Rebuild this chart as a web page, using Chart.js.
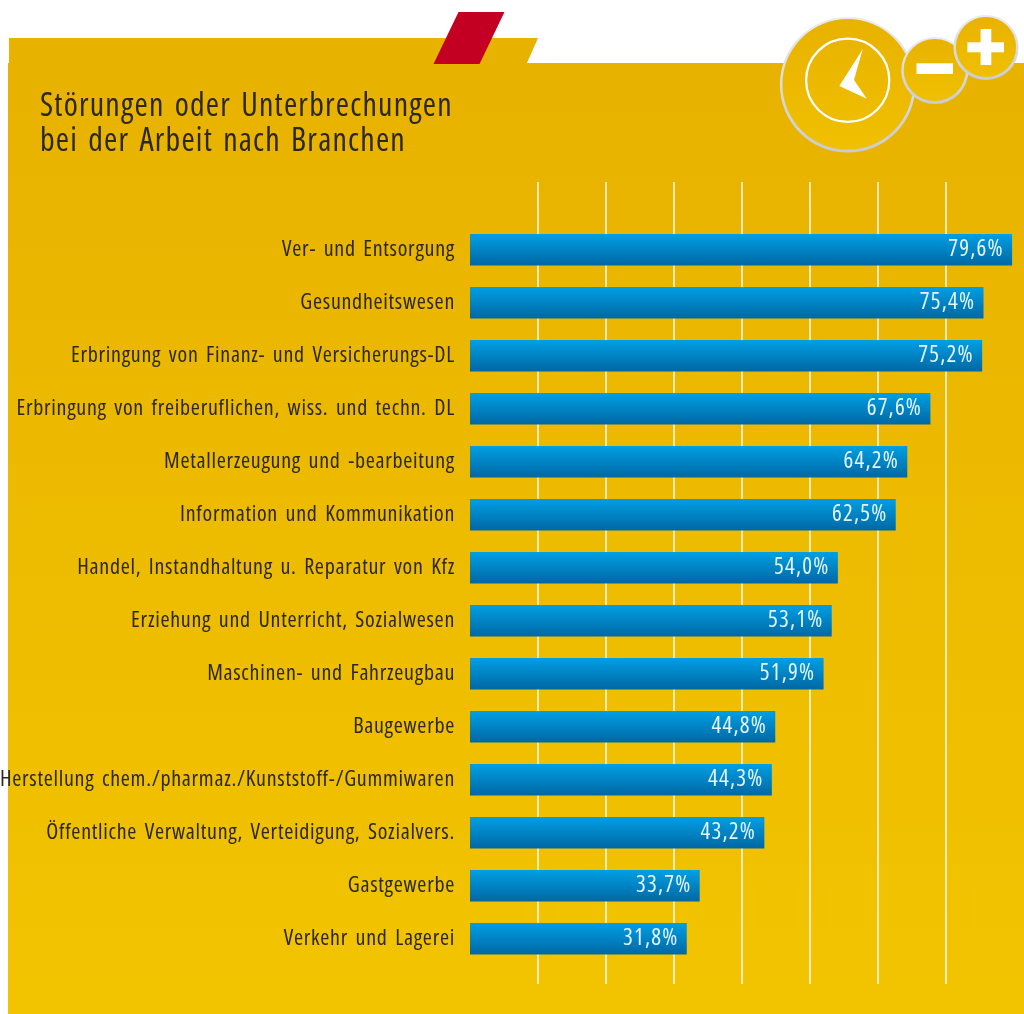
<!DOCTYPE html>
<html lang="de">
<head>
<meta charset="utf-8">
<title>Störungen oder Unterbrechungen</title>
<style>html,body{margin:0;padding:0;background:#fff}canvas{display:block}</style>
<script src="https://cdn.jsdelivr.net/npm/chart.js@4"></script>
</head>
<body>
<canvas id="c" width="1024" height="1014"></canvas>
<script>
const titleLines = ["Störungen oder Unterbrechungen", "bei der Arbeit nach Branchen"];
const categories = [
  "Ver- und Entsorgung",
  "Gesundheitswesen",
  "Erbringung von Finanz- und Versicherungs-DL",
  "Erbringung von freiberuflichen, wiss. und techn. DL",
  "Metallerzeugung und -bearbeitung",
  "Information und Kommunikation",
  "Handel, Instandhaltung u. Reparatur von Kfz",
  "Erziehung und Unterricht, Sozialwesen",
  "Maschinen- und Fahrzeugbau",
  "Baugewerbe",
  "Herstellung chem./pharmaz./Kunststoff-/Gummiwaren",
  "Öffentliche Verwaltung, Verteidigung, Sozialvers.",
  "Gastgewerbe",
  "Verkehr und Lagerei"
];
const values = [79.6, 75.4, 75.2, 67.6, 64.2, 62.5, 54.0, 53.1, 51.9, 44.8, 44.3, 43.2, 33.7, 31.8];
const FONT = '"Open Sans"';

const canvas = document.getElementById('c');
const context = canvas.getContext('2d');
const fontProp = Object.getOwnPropertyDescriptor(CanvasRenderingContext2D.prototype, 'font');
Object.defineProperty(context, 'font', {
  get() { return fontProp.get.call(context); },
  set(v) {
    fontProp.set.call(context, v);
    context.fontStretch = 'normal';
    context.fontStretch = 'condensed';
  }
});

function spacing(ctx, letter, word) {
  ctx.letterSpacing = letter + 'px';
  ctx.wordSpacing = word + 'px';
}

function circle(ctx, x, y, r, top, bottom, edgeTop, edgeBottom) {
  const g = ctx.createLinearGradient(0, y - r, 0, y + r);
  g.addColorStop(0, top); g.addColorStop(1, bottom);
  const e = ctx.createLinearGradient(0, y - r, 0, y + r);
  e.addColorStop(0, edgeTop); e.addColorStop(1, edgeBottom);
  ctx.beginPath(); ctx.arc(x, y, r, 0, Math.PI * 2);
  ctx.fillStyle = e; ctx.fill();
  ctx.beginPath(); ctx.arc(x, y - 0.5, r - 2.5, 0, Math.PI * 2);
  ctx.fillStyle = g; ctx.fill();
}

const decor = {
  id: 'decor',
  beforeDraw(chart) {
    const ctx = chart.ctx;
    spacing(ctx, 0.7, 2.8);
    ctx.save();
    const bg = ctx.createLinearGradient(0, 63, 0, 1014);
    bg.addColorStop(0, '#e8b200'); bg.addColorStop(1, '#f2c400');
    ctx.fillStyle = '#e8b200';
    ctx.beginPath();
    ctx.moveTo(9, 38); ctx.lineTo(538, 38); ctx.lineTo(526.5, 64); ctx.lineTo(9, 64);
    ctx.closePath(); ctx.fill();
    ctx.fillStyle = bg;
    ctx.fillRect(8, 63, 1016, 951);
    ctx.fillStyle = '#c30021';
    ctx.beginPath();
    ctx.moveTo(458.5, 12); ctx.lineTo(504.5, 12); ctx.lineTo(479.5, 64); ctx.lineTo(433.5, 64);
    ctx.closePath(); ctx.fill();

    circle(ctx, 847.7, 84.8, 67.8, '#e8b200', '#f0c000', '#e9ebee', '#c9ccd2');
    ctx.strokeStyle = '#fff'; ctx.lineWidth = 2.2;
    ctx.beginPath(); ctx.arc(847.7, 80.3, 41.6, 0, Math.PI * 2); ctx.stroke();
    ctx.fillStyle = '#fff';
    ctx.beginPath();
    ctx.moveTo(862.8, 49); ctx.lineTo(854, 80); ctx.lineTo(866.8, 98.7); ctx.lineTo(839.3, 86);
    ctx.closePath(); ctx.fill();

    circle(ctx, 934.8, 70.5, 33.6, '#e8b200', '#f0c000', '#e9ebee', '#c9ccd2');
    ctx.fillStyle = '#fff';
    ctx.fillRect(916.5, 63.3, 36.5, 10.7);

    circle(ctx, 986, 47.5, 32.6, '#e8b200', '#f0c000', '#e9ebee', '#c9ccd2');
    ctx.fillStyle = '#fff';
    ctx.fillRect(967.4, 42.3, 36.6, 10);
    ctx.fillRect(980.6, 29, 10.7, 36);
    ctx.restore();
  },
  afterLayout(chart) {
    const tb = chart.titleBlock;
    tb.left = 40;
    tb.right = 1024;
    if (!tb.spacedDraw) {
      const original = tb.draw.bind(tb);
      tb.spacedDraw = true;
      tb.draw = function () {
        spacing(chart.ctx, 1.2, 3);
        original();
        spacing(chart.ctx, 0.7, 2.8);
      };
    }
  },
  beforeDatasetsDraw(chart) {
    const ctx = chart.ctx, x = chart.scales.x;
    ctx.save();
    ctx.strokeStyle = 'rgba(255,255,255,0.95)';
    ctx.lineWidth = 1.5;
    x.ticks.forEach(t => {
      if (t.value <= 0 || t.value >= 80) return;
      const px = Math.round(x.getPixelForValue(t.value));
      ctx.beginPath(); ctx.moveTo(px, 182); ctx.lineTo(px, 984); ctx.stroke();
    });
    ctx.restore();
  },
  afterDatasetsDraw(chart) {
    const ctx = chart.ctx, x = chart.scales.x, y = chart.scales.y;
    ctx.save();
    spacing(ctx, 1.2, 0);
    ctx.font = '23px ' + FONT;
    ctx.fillStyle = '#e6f4fb';
    ctx.textAlign = 'right';
    ctx.textBaseline = 'middle';
    values.forEach((v, i) => {
      ctx.fillText(v.toFixed(1).replace('.', ',') + '%', x.getPixelForValue(v) - 8, y.getPixelForValue(i) - 0.5);
    });
    ctx.restore();
    spacing(ctx, 0.7, 2.8);
  }
};

new Chart(canvas, {
  type: 'bar',
  plugins: [decor],
  data: {
    labels: categories,
    datasets: [{
      data: values,
      barThickness: 31,
      borderWidth: 0,
      backgroundColor(c) {
        const ch = c.chart;
        const py = ch.scales.y && c.dataIndex !== undefined ? ch.scales.y.getPixelForValue(c.dataIndex) : NaN;
        if (!Number.isFinite(py)) return '#0083c4';
        const g = ch.ctx.createLinearGradient(0, py - 15.5, 0, py + 15.5);
        g.addColorStop(0, '#009fe3'); g.addColorStop(1, '#0068a4');
        return g;
      }
    }]
  },
  options: {
    indexAxis: 'y',
    responsive: false,
    animation: false,
    devicePixelRatio: 1,
    layout: { padding: { left: 0, right: 9.5, top: 0, bottom: 48.75 } },
    plugins: {
      legend: { display: false },
      tooltip: { enabled: false },
      title: {
        display: true,
        text: titleLines,
        align: 'start',
        color: '#2a2820',
        font: { family: FONT, size: 32, lineHeight: '35px', weight: 'normal' },
        padding: { top: 89.5, bottom: 63.75 }
      }
    },
    scales: {
      x: {
        display: false,
        min: 0,
        max: 80,
        ticks: { stepSize: 10 }
      },
      y: {
        afterFit(s) { s.width = 470; },
        grid: { display: false, drawTicks: false },
        border: { display: false },
        ticks: {
          color: '#2a2820',
          padding: 15,
          font: { family: FONT, size: 22 }
        }
      }
    }
  }
});
</script>
</body>
</html>
